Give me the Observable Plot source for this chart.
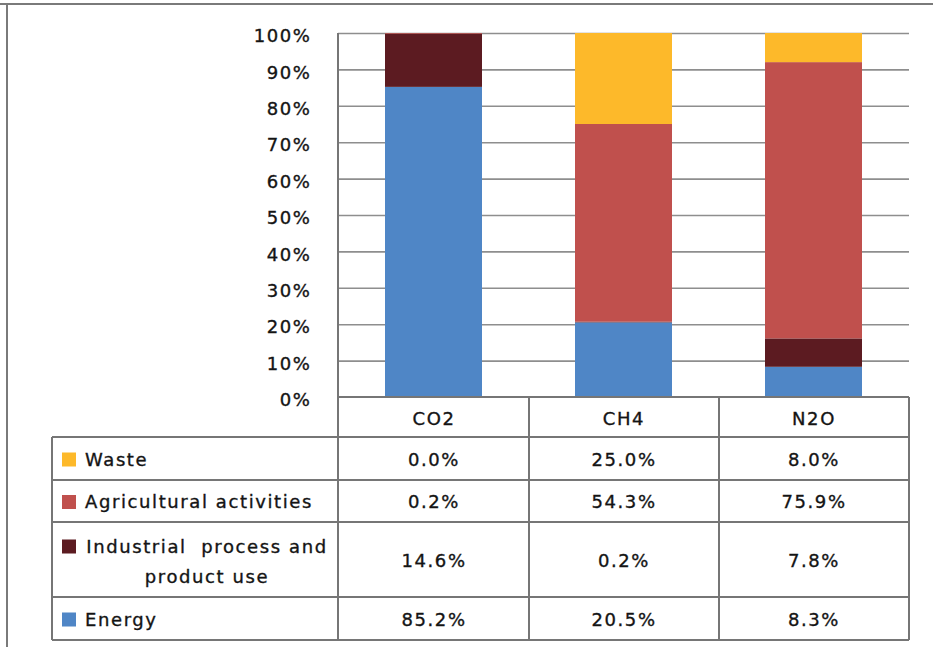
<!DOCTYPE html>
<html>
<head>
<meta charset="utf-8">
<script src="https://cdn.jsdelivr.net/npm/d3@7"></script>
<script src="https://cdn.jsdelivr.net/npm/@observablehq/plot@0.6"></script>
<style>
  body { margin: 0; background: #fff; }
  #chart svg { display: block; }
  #chart svg text { stroke: #141414; stroke-width: 0.35px; }
</style>
</head>
<body>
<div id="chart"></div>
<script>
// Greenhouse gas emissions by source sector, share of each gas (%)
const gases = ["CO2", "CH4", "N2O"];
// stacking order, bottom to top
const sources = ["Energy", "Industrial process and product use", "Agricultural activities", "Waste"];
const energy = [85.2, 20.5, 8.3];
const industrial = [14.6, 0.2, 7.8];
const agricultural = [0.2, 54.3, 75.9];
const waste = [0.0, 25.0, 8.0];
const yTicks = [0, 10, 20, 30, 40, 50, 60, 70, 80, 90, 100];
const sourceColors = ["#4f86c6", "#5c1b21", "#c0504d", "#fdb92a"];

const seriesBySource = [energy, industrial, agricultural, waste];
const rows = [];
sources.forEach((s, i) => gases.forEach((g, j) => rows.push({gas: g, source: s, value: seriesBySource[i][j]})));

const W = 933, H = 647;
const plotTop = 33, plotBottom = 397, plotLeft = 338, plotRight = 909;
const gridColor = "#8e8e8e", tableColor = "#767676", ink = "#141414";
const font = "DejaVu Sans";

const chart = Plot.plot({
  width: W,
  height: H,
  marginTop: plotTop,
  marginBottom: H - plotBottom,
  marginLeft: plotLeft,
  marginRight: W - plotRight,
  x: {domain: gases, padding: 0, axis: null},
  y: {domain: [0, 100], axis: null},
  color: {domain: sources, range: sourceColors},
  style: {fontFamily: font, fontSize: "18px", color: ink, letterSpacing: "1.6px", background: "#fff"},
  marks: [
    Plot.gridY(yTicks.filter(d => d > 0), {stroke: gridColor, strokeOpacity: 1, strokeWidth: 1.6}),
    Plot.barY(rows, Plot.stackY({
      x: "gas", y: "value", fill: "source", order: sources,
      insetLeft: 46, insetRight: 47
    })),
    Plot.axisY(yTicks, {
      tickSize: 0, tickPadding: 27, tickFormat: d => d + "%",
      fontSize: 18, dy: 3, fill: ink, label: null
    })
  ]
});
document.getElementById("chart").append(chart);

// data table below the plot, laid out on the chart's x scale
const x = chart.scale("x");
const bw = x.bandwidth;
const svg = d3.select(chart);
const g = svg.append("g");

const tableLeft = 52;
const headerBottom = 437;
// rows listed top to bottom (reverse of the stack)
const tableRows = sources.slice().reverse();
const rowEdges = [437, 480, 522, 597, 640];
const fmt = d => d3.format(".1f")(d) + "%";

// outer frame
g.append("line").attr("x1", 0).attr("x2", W).attr("y1", 4).attr("y2", 4)
  .attr("stroke", "#7a7a7a").attr("stroke-width", 2);
g.append("line").attr("x1", 7).attr("x2", 7).attr("y1", 4).attr("y2", H)
  .attr("stroke", "#7a7a7a").attr("stroke-width", 2);

const line = (x1, y1, x2, y2) => g.append("line")
  .attr("x1", x1).attr("y1", y1).attr("x2", x2).attr("y2", y2)
  .attr("stroke", tableColor).attr("stroke-width", 2);

// value axis line running into the table
line(plotLeft, plotTop, plotLeft, rowEdges[rowEdges.length - 1]);
// category column separators
gases.forEach(gs => line(x.apply(gs) + bw, plotBottom, x.apply(gs) + bw, rowEdges[rowEdges.length - 1]));
// header row top (0% baseline)
line(plotLeft, plotBottom, plotRight, plotBottom);
// table horizontal rules
rowEdges.forEach(y => line(tableLeft, y, plotRight, y));
line(tableLeft, rowEdges[0], tableLeft, rowEdges[rowEdges.length - 1]);

const text = (tx, ty, s, anchor = "middle") => g.append("text")
  .attr("x", tx).attr("y", ty).attr("dy", "0.35em")
  .attr("text-anchor", anchor).attr("fill", ink)
  .attr("font-family", font).attr("font-size", 18)
  .text(s);

// header
gases.forEach(gs => text(x.apply(gs) + bw / 2, (plotBottom + headerBottom) / 2 + 2, gs));

// body rows
tableRows.forEach((s, r) => {
  const y0 = rowEdges[r], y1 = rowEdges[r + 1];
  const cy = (y0 + y1) / 2 + 1;
  const si = sources.indexOf(s);
  const series = seriesBySource[si];
  const twoLine = s === "Industrial process and product use";
  const swY = twoLine ? cy - 14 : cy;
  g.append("rect").attr("x", 62).attr("y", swY - 7).attr("width", 14).attr("height", 14)
    .attr("fill", sourceColors[si]);
  if (twoLine) {
    text(207, cy - 14, "Industrial  process and");
    text(207, cy + 16, "product use");
  } else {
    text(85, cy, s, "start");
  }
  gases.forEach((gs, j) => text(x.apply(gs) + bw / 2, cy, fmt(series[j])));
});
</script>
</body>
</html>
